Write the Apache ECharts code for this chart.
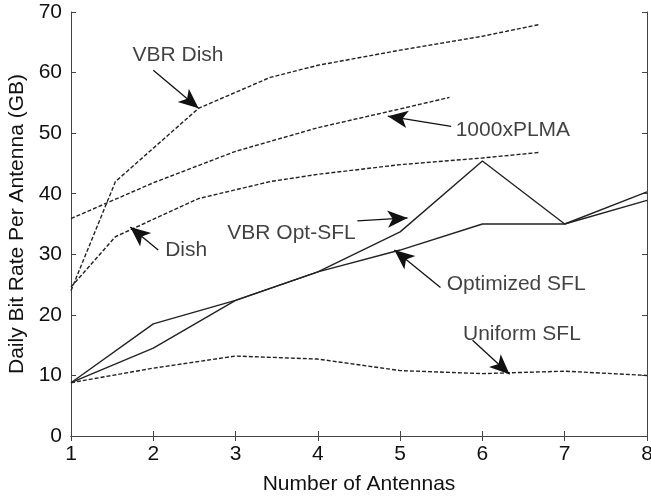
<!DOCTYPE html>
<html>
<head>
<meta charset="utf-8">
<script src="https://cdn.jsdelivr.net/npm/echarts@6/dist/echarts.min.js"></script>
<style>
  html, body { margin: 0; padding: 0; background: #fff; }
  #chart { width: 651px; height: 496px; }
</style>
</head>
<body>
<div id="chart"></div>
<script>
// data
const antennas = [1, 2, 3, 4, 5, 6, 7, 8]
const optSfl = [8.8, 18.5, 22.4, 27.1, 30.7, 35.0, 35.0, 38.9]
const vbrOptSfl = [8.8, 14.5, 22.4, 27.1, 33.7, 45.4, 35.0, 40.3]
const uniformSfl = [8.8, 11.2, 13.2, 12.7, 10.8, 10.3, 10.7, 10.0]

// dashed curves are sampled at non-integer antenna counts
const vbrDishX = [1, 1.54, 2.55, 3.42, 4, 5, 6, 6.68]
const vbrDishY = [24.0, 42.0, 54.1, 59.2, 61.2, 63.7, 66.0, 67.9]
const dishX = [1, 1.54, 2.55, 3.42, 4, 5, 6, 6.68]
const dishY = [24.6, 32.9, 39.2, 42.0, 43.2, 44.8, 45.9, 46.8]
const plmaX = [1, 2, 3, 4, 5, 5.6]
const plmaY = [35.9, 41.8, 47.0, 50.9, 54.0, 55.9]

// annotations: [text, x, y]
const labels = [
  ['VBR Dish', 2.30, 62.8],
  ['1000xPLMA', 6.37, 50.5],
  ['Dish', 2.40, 30.6],
  ['VBR Opt-SFL', 3.68, 33.5],
  ['Optimized SFL', 6.41, 25.0],
  ['Uniform SFL', 6.48, 16.8],
]
// arrows: [tailX, tailY, headX, headY]
const arrows = [
  [2.00, 60.4, 2.55, 54.1],
  [5.62, 51.1, 4.85, 52.8],
  [2.06, 30.7, 1.72, 34.5],
  [4.48, 35.5, 5.09, 36.0],
  [5.49, 24.5, 4.93, 30.7],
  [5.88, 15.8, 6.33, 10.2],
]

const font = 'Liberation Sans, Arial, sans-serif'
const ink = '#222'
const pairs = (xs, ys) => xs.map((x, i) => [x, ys[i]])

const solid = { color: ink, width: 1.4, type: 'solid' }
const dashed = { color: ink, width: 1.4, type: [4, 2] }

const lineSeries = (name, data, style) => ({
  name: name,
  type: 'line',
  data: data,
  showSymbol: false,
  symbol: 'none',
  lineStyle: style,
  silent: true,
  z: 3,
})

const axisLine = { show: true, lineStyle: { color: '#444', width: 1 } }
const tick = { show: true, inside: true, length: 5, lineStyle: { color: '#444' } }

let myChart = echarts.init(document.getElementById('chart'))
myChart.setOption({
  animation: false,
  textStyle: { fontFamily: font },
  grid: { left: 71, right: 4, top: 12, bottom: 60, outerBoundsMode: 'none', containLabel: false },
  xAxis: [
    {
      type: 'value', min: 1, max: 8, interval: 1,
      name: 'Number of Antennas', nameLocation: 'middle', nameGap: 38,
      nameTextStyle: { fontSize: 21, color: '#111', fontFamily: font },
      axisLine: axisLine, axisTick: tick, splitLine: { show: false },
      axisLabel: { fontSize: 21, color: '#111', margin: 8, fontFamily: font },
    },
    {
      type: 'value', min: 1, max: 8, interval: 1, position: 'top',
      axisLine: axisLine, axisTick: tick, splitLine: { show: false },
      axisLabel: { show: false },
    },
  ],
  yAxis: [
    {
      type: 'value', min: 0, max: 70, interval: 10,
      name: 'Daily Bit Rate Per Antenna (GB)', nameLocation: 'middle', nameGap: 42,
      nameTextStyle: { fontSize: 21, color: '#111', fontFamily: font },
      axisLine: axisLine, axisTick: tick, splitLine: { show: false },
      axisLabel: { fontSize: 21, color: '#111', margin: 9, fontFamily: font },
    },
    {
      type: 'value', min: 0, max: 70, interval: 10, position: 'right',
      axisLine: axisLine, axisTick: tick, splitLine: { show: false },
      axisLabel: { show: false },
    },
  ],
  series: [
    lineSeries('VBR Dish', pairs(vbrDishX, vbrDishY), dashed),
    lineSeries('Dish', pairs(dishX, dishY), dashed),
    lineSeries('1000xPLMA', pairs(plmaX, plmaY), dashed),
    lineSeries('Optimized SFL', pairs(antennas, optSfl), solid),
    lineSeries('VBR Opt-SFL', pairs(antennas, vbrOptSfl), solid),
    lineSeries('Uniform SFL', pairs(antennas, uniformSfl), dashed),
    {
      // annotation text and arrows
      name: 'notes',
      type: 'scatter',
      symbolSize: 0,
      silent: true,
      data: labels.map(l => ({ value: [l[1], l[2]], name: l[0] })),
      label: {
        show: true, position: 'inside', formatter: '{b}',
        fontSize: 21, color: '#111', fontFamily: font,
      },
      markLine: {
        silent: true,
        animation: false,
        symbol: ['none', 'arrow'],
        symbolSize: [13, 20],
        label: { show: false },
        lineStyle: { color: '#111', width: 1.3, type: 'solid' },
        data: arrows.map(a => [{ coord: [a[0], a[1]] }, { coord: [a[2], a[3]] }]),
      },
      z: 5,
    },
  ],
})
</script>
</body>
</html>
